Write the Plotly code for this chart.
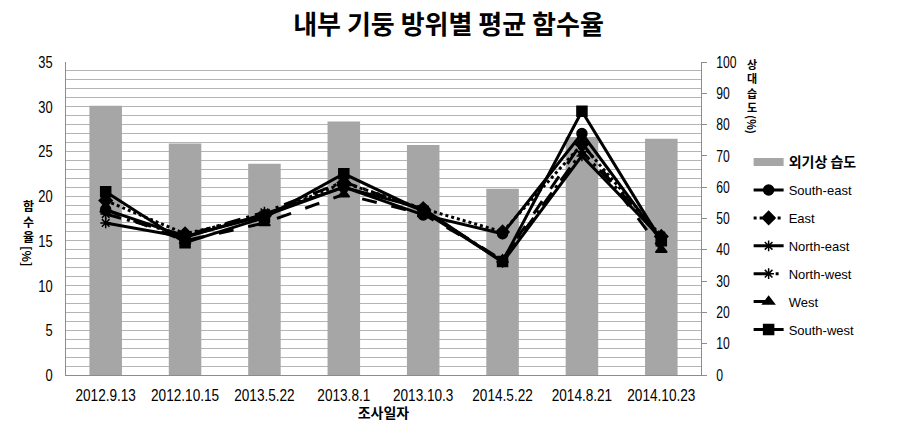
import plotly.graph_objects as go

dates = ["2012.9.13", "2012.10.15", "2013.5.22", "2013.8.1", "2013.10.3", "2014.5.22", "2014.8.21", "2014.10.23"]
humidity = [86, 74, 67.5, 81, 73.5, 59.5, 76, 75.5]
south_east = [18.5, 15.5, 17.8, 21.0, 17.9, 15.8, 27.0, 15.0]
east = [19.5, 15.8, 17.8, 21.5, 18.6, 16.0, 25.8, 15.5]
north_east = [17.0, 15.4, 18.0, 21.0, 18.6, 12.6, 24.5, 15.3]
north_west = [18.0, 15.6, 18.2, 21.6, 18.4, 12.8, 25.0, 15.6]
west = [18.5, 15.0, 17.0, 20.2, 18.0, 12.9, 26.0, 14.0]
south_west = [20.5, 14.8, 17.6, 22.5, 18.3, 12.7, 29.5, 15.0]

left_title = "함수율"
left_unit = "[%]"
right_title = "상대습도"
right_unit = "(%)"

CJK = "Noto Sans CJK KR"
NUM = "Liberation Sans, Arial, sans-serif"
BAR_COLOR = "#a6a6a6"

fig = go.Figure()
fig.add_trace(go.Bar(x=dates, y=humidity, name="외기상 습도", yaxis="y", showlegend=False,
                     marker=dict(color=BAR_COLOR, line=dict(width=0)), width=0.41,
                     legendgroup="h"))
# legend entry for humidity bars (drawn as a wide grey line like the reference)
fig.add_trace(go.Scatter(x=[dates[0]], y=[None], mode="lines", yaxis="y",
                         name="<span style=\"font-family:'Noto Sans CJK KR';font-size:14px\"><b>외기상 습도</b></span>",
                         line=dict(color=BAR_COLOR, width=8), legendgroup="h"))

series = [
    ("South-east", south_east, "solid", "circle", 10),
    ("East", east, "dot", "diamond", 10),
    ("North-east", north_east, "solid", "asterisk-open", 9),
    ("North-west", north_west, "16px,6px,3px,6px", "asterisk-open", 9),
    ("West", west, "longdash", "triangle-up", 10),
    ("South-west", south_west, "solid", "square", 10),
]
for name, vals, dash, sym, sz in series:
    fig.add_trace(go.Scatter(
        x=dates, y=vals, name=name, yaxis="y2", mode="lines+markers",
        line=dict(color="black", width=3, dash=dash),
        marker=dict(symbol=sym, size=sz, color="black", line=dict(color="black", width=1.5)),
        legendgroup=name))

# invisible trace carrying the fine grid axis
fig.add_trace(go.Scatter(x=[dates[0]], y=[0], yaxis="y3", mode="markers",
                         marker=dict(opacity=0), showlegend=False, hoverinfo="skip"))

fig.update_layout(
    width=897, height=422,
    margin=dict(l=66, r=196, t=62, b=47, autoexpand=False),
    paper_bgcolor="white", plot_bgcolor="white",
    title=dict(text="<b>내부 기둥 방위별 평균 함수율</b>", x=0.5, xanchor="center",
               y=0.94, yanchor="middle", font=dict(family=CJK, size=26, color="black")),
    showlegend=True,
    legend=dict(x=1.075, y=0.728, xanchor="left", yanchor="top", traceorder="grouped",
                font=dict(family=NUM, size=13, color="black"),
                tracegroupgap=8, bgcolor="rgba(0,0,0,0)"),
    xaxis=dict(type="category", categoryorder="array", categoryarray=dates,
               showline=True, linecolor="#8c8c8c", linewidth=1, ticks="",
               ticklabelstandoff=6, automargin=False,
               tickfont=dict(family=NUM, size=16, color="black"),
               title=dict(text="<b>조사일자</b>", font=dict(family=CJK, size=14, color="black"), standoff=1),
               showgrid=False),
    yaxis=dict(side="right", range=[0, 100], dtick=10, showgrid=False, automargin=False,
               showline=True, linecolor="#8c8c8c", linewidth=1,
               ticks="outside", ticklen=5, tickcolor="#8c8c8c", ticklabelstandoff=6,
               tickfont=dict(family=NUM, size=16, color="black")),
    yaxis2=dict(side="left", overlaying="y", range=[0, 35], dtick=5, automargin=False,
                showline=True, linecolor="#8c8c8c", linewidth=1,
                showgrid=False, ticks="", ticklabelstandoff=9,
                tickfont=dict(family=NUM, size=17, color="black")),
    yaxis3=dict(overlaying="y", range=[0, 35], dtick=1, showgrid=True, automargin=False,
                gridcolor="#b4b4b4", gridwidth=1, showticklabels=False,
                zeroline=False, showline=False),
)

def py(px):
    return (375 - px) / 313

def px_x(px):
    return (px - 66) / 635

# stacked (vertical) axis titles, as in the reference
fig.add_annotation(text="<b>" + "<br>".join(left_title) + "</b>", xref="paper", yref="paper",
                   x=px_x(28), y=py(196), xanchor="center", yanchor="top", showarrow=False,
                   borderpad=0, font=dict(family=CJK, size=12, color="black"))
fig.add_annotation(text="<b>" + left_unit + "</b>", xref="paper", yref="paper",
                   x=px_x(28), y=py(256), xanchor="center", yanchor="middle", showarrow=False,
                   textangle=90, borderpad=0, font=dict(family=CJK, size=12, color="black"))
fig.add_annotation(text="<b>" + "<br>".join(right_title) + "</b>", xref="paper", yref="paper",
                   x=px_x(752), y=py(55), xanchor="center", yanchor="top", showarrow=False,
                   borderpad=0, font=dict(family=CJK, size=11, color="black"))
fig.add_annotation(text="<b>" + right_unit + "</b>", xref="paper", yref="paper",
                   x=px_x(752), y=py(125), xanchor="center", yanchor="middle", showarrow=False,
                   textangle=90, borderpad=0, font=dict(family=CJK, size=11, color="black"))

post = """
var gd = document.getElementById('{plot_id}');
function condense(sel, f){
  gd.querySelectorAll(sel).forEach(function(t){
    var w = t.getComputedTextLength();
    if (w > 0) {
      t.setAttribute('textLength', (w*f).toFixed(1));
      t.setAttribute('lengthAdjust', 'spacingAndGlyphs');
    }
  });
}
condense('.xtick text', 0.85);
condense('.ytick text, .y2tick text', 0.76);
"""

fig.write_html("out.html", post_script=post)
